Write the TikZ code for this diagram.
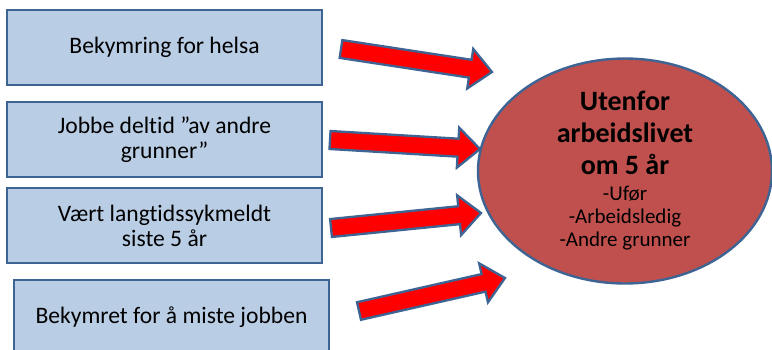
\documentclass[tikz,border=0pt]{standalone}
\usepackage{fontspec}
\setmainfont{Carlito}[Ligatures=NoCommon]
\usepackage{tikz}
\usetikzlibrary{calc,shapes.geometric}
\definecolor{boxfill}{HTML}{B9CDE5}
\definecolor{boxline}{HTML}{3E6494}
\definecolor{ovalfill}{HTML}{C0504D}
\definecolor{arrred}{HTML}{FF0000}
\tikzset{
  cause/.style={draw=boxline,line width=2.5pt,fill=boxfill,minimum width=315pt,minimum height=75pt,
    align=center,inner sep=0pt,font=\fontsize{23.6}{25}\selectfont},
  outcome/.style={ellipse,draw=boxline,line width=2.4pt,fill=ovalfill,minimum width=294pt,minimum height=184pt,
    align=center,inner sep=0pt,font=\fontsize{28}{32}\selectfont},
  bigarr/.style={draw=boxline,line width=2.3pt,fill=arrred,line join=miter}
}
\begin{document}
\begin{tikzpicture}[x=1pt,y=-1pt]
\clip (0,0) rectangle (772,349);
\fill[white] (0,0) rectangle (772,349);
% factor boxes
\node[cause] (helse) at (164.5,47.5) {Bekymring for helsa};
\node[cause] (deltid) at (164.5,139.5) {Jobbe deltid ”av andre\\grunner”};
\node[cause] (sykm) at (164.5,225.5) {Vært langtidssykmeldt\\siste 5 år};
\node[cause] (jobb) at (171.5,317.5) {Bekymret for å miste jobben};
% outcome
\node[outcome] (ute) at (625,171) {\bfseries Utenfor\\\bfseries arbeidslivet\\\bfseries om 5 år\\[-6pt]
  {\fontsize{21}{23}\selectfont -Ufør}\\[-9pt]
  {\fontsize{21}{23}\selectfont -Arbeidsledig}\\[-9pt]
  {\fontsize{21}{23}\selectfont -Andre grunner}};
% block arrows
\coordinate (t1) at (341,49);  \coordinate (h1) at (492,72);
\coordinate (t2) at (330,140); \coordinate (h2) at (480,149);
\coordinate (t3) at (331,228); \coordinate (h3) at (481,213);
\coordinate (t4) at (359,311); \coordinate (h4) at (505,278);
\foreach \i in {1,...,4}{
  \coordinate (b\i) at ($(h\i)!22pt!(t\i)$);
  \filldraw[bigarr] ($(t\i)!9pt!90:(h\i)$) -- ($(b\i)!9pt!-90:(t\i)$) -- ($(b\i)!20pt!-90:(t\i)$)
    -- (h\i) -- ($(b\i)!20pt!90:(t\i)$) -- ($(b\i)!9pt!90:(t\i)$) -- ($(t\i)!9pt!-90:(h\i)$) -- cycle;
}
\end{tikzpicture}
\end{document}
